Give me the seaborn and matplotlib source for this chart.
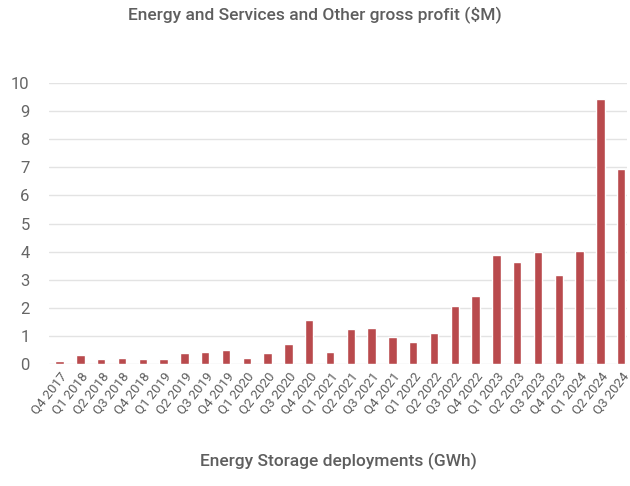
import seaborn as sns
import matplotlib.pyplot as plt
import pandas as pd

quarters = ["Q4 2017", "Q1 2018", "Q2 2018", "Q3 2018", "Q4 2018",
            "Q1 2019", "Q2 2019", "Q3 2019", "Q4 2019",
            "Q1 2020", "Q2 2020", "Q3 2020", "Q4 2020",
            "Q1 2021", "Q2 2021", "Q3 2021", "Q4 2021",
            "Q1 2022", "Q2 2022", "Q3 2022", "Q4 2022",
            "Q1 2023", "Q2 2023", "Q3 2023", "Q4 2023",
            "Q1 2024", "Q2 2024", "Q3 2024"]
gross_profit = [0.12, 0.32, 0.17, 0.20, 0.19,
                0.19, 0.38, 0.44, 0.50,
                0.23, 0.38, 0.72, 1.57,
                0.42, 1.25, 1.27, 0.95,
                0.80, 1.09, 2.08, 2.43,
                3.87, 3.63, 3.97, 3.17,
                4.04, 9.43, 6.95]

df = pd.DataFrame({"quarter": quarters, "profit": gross_profit})

sns.set_style("white")
plt.rcParams["font.family"] = ["Roboto", "DejaVu Sans"]

text_color = "#5e5e5e"
fig = plt.figure(figsize=(6.3, 4.86), dpi=100)
ax = fig.add_axes([0.078, 0.251, 0.918, 0.578])

sns.barplot(data=df, x="quarter", y="profit", color="#b94a4d", saturation=1,
            width=0.4, ax=ax)

ax.set_ylim(0, 10)
ax.set_xlim(-0.5, 27.3)
ax.set_yticks(range(0, 11))
ax.yaxis.grid(True, color="#e3e3e3", linewidth=1)
ax.set_axisbelow(True)
for s in ax.spines.values():
    s.set_visible(False)

ax.tick_params(axis="y", length=0, pad=14, labelsize=12, labelcolor="#666666")
ax.tick_params(axis="x", length=0, pad=4, labelsize=9.5, labelcolor=text_color)
plt.setp(ax.get_xticklabels(), rotation=52, ha="right", rotation_mode="anchor")

ax.set_ylabel("")
ax.set_xlabel("Energy Storage deployments (GWh)", fontsize=12.5,
              fontweight="medium", color=text_color, labelpad=26)
fig.suptitle("Energy and Services and Other gross profit ($M)", fontsize=12.5,
             fontweight="medium", color=text_color, y=0.985)

fig.savefig("out.png", dpi=100)
